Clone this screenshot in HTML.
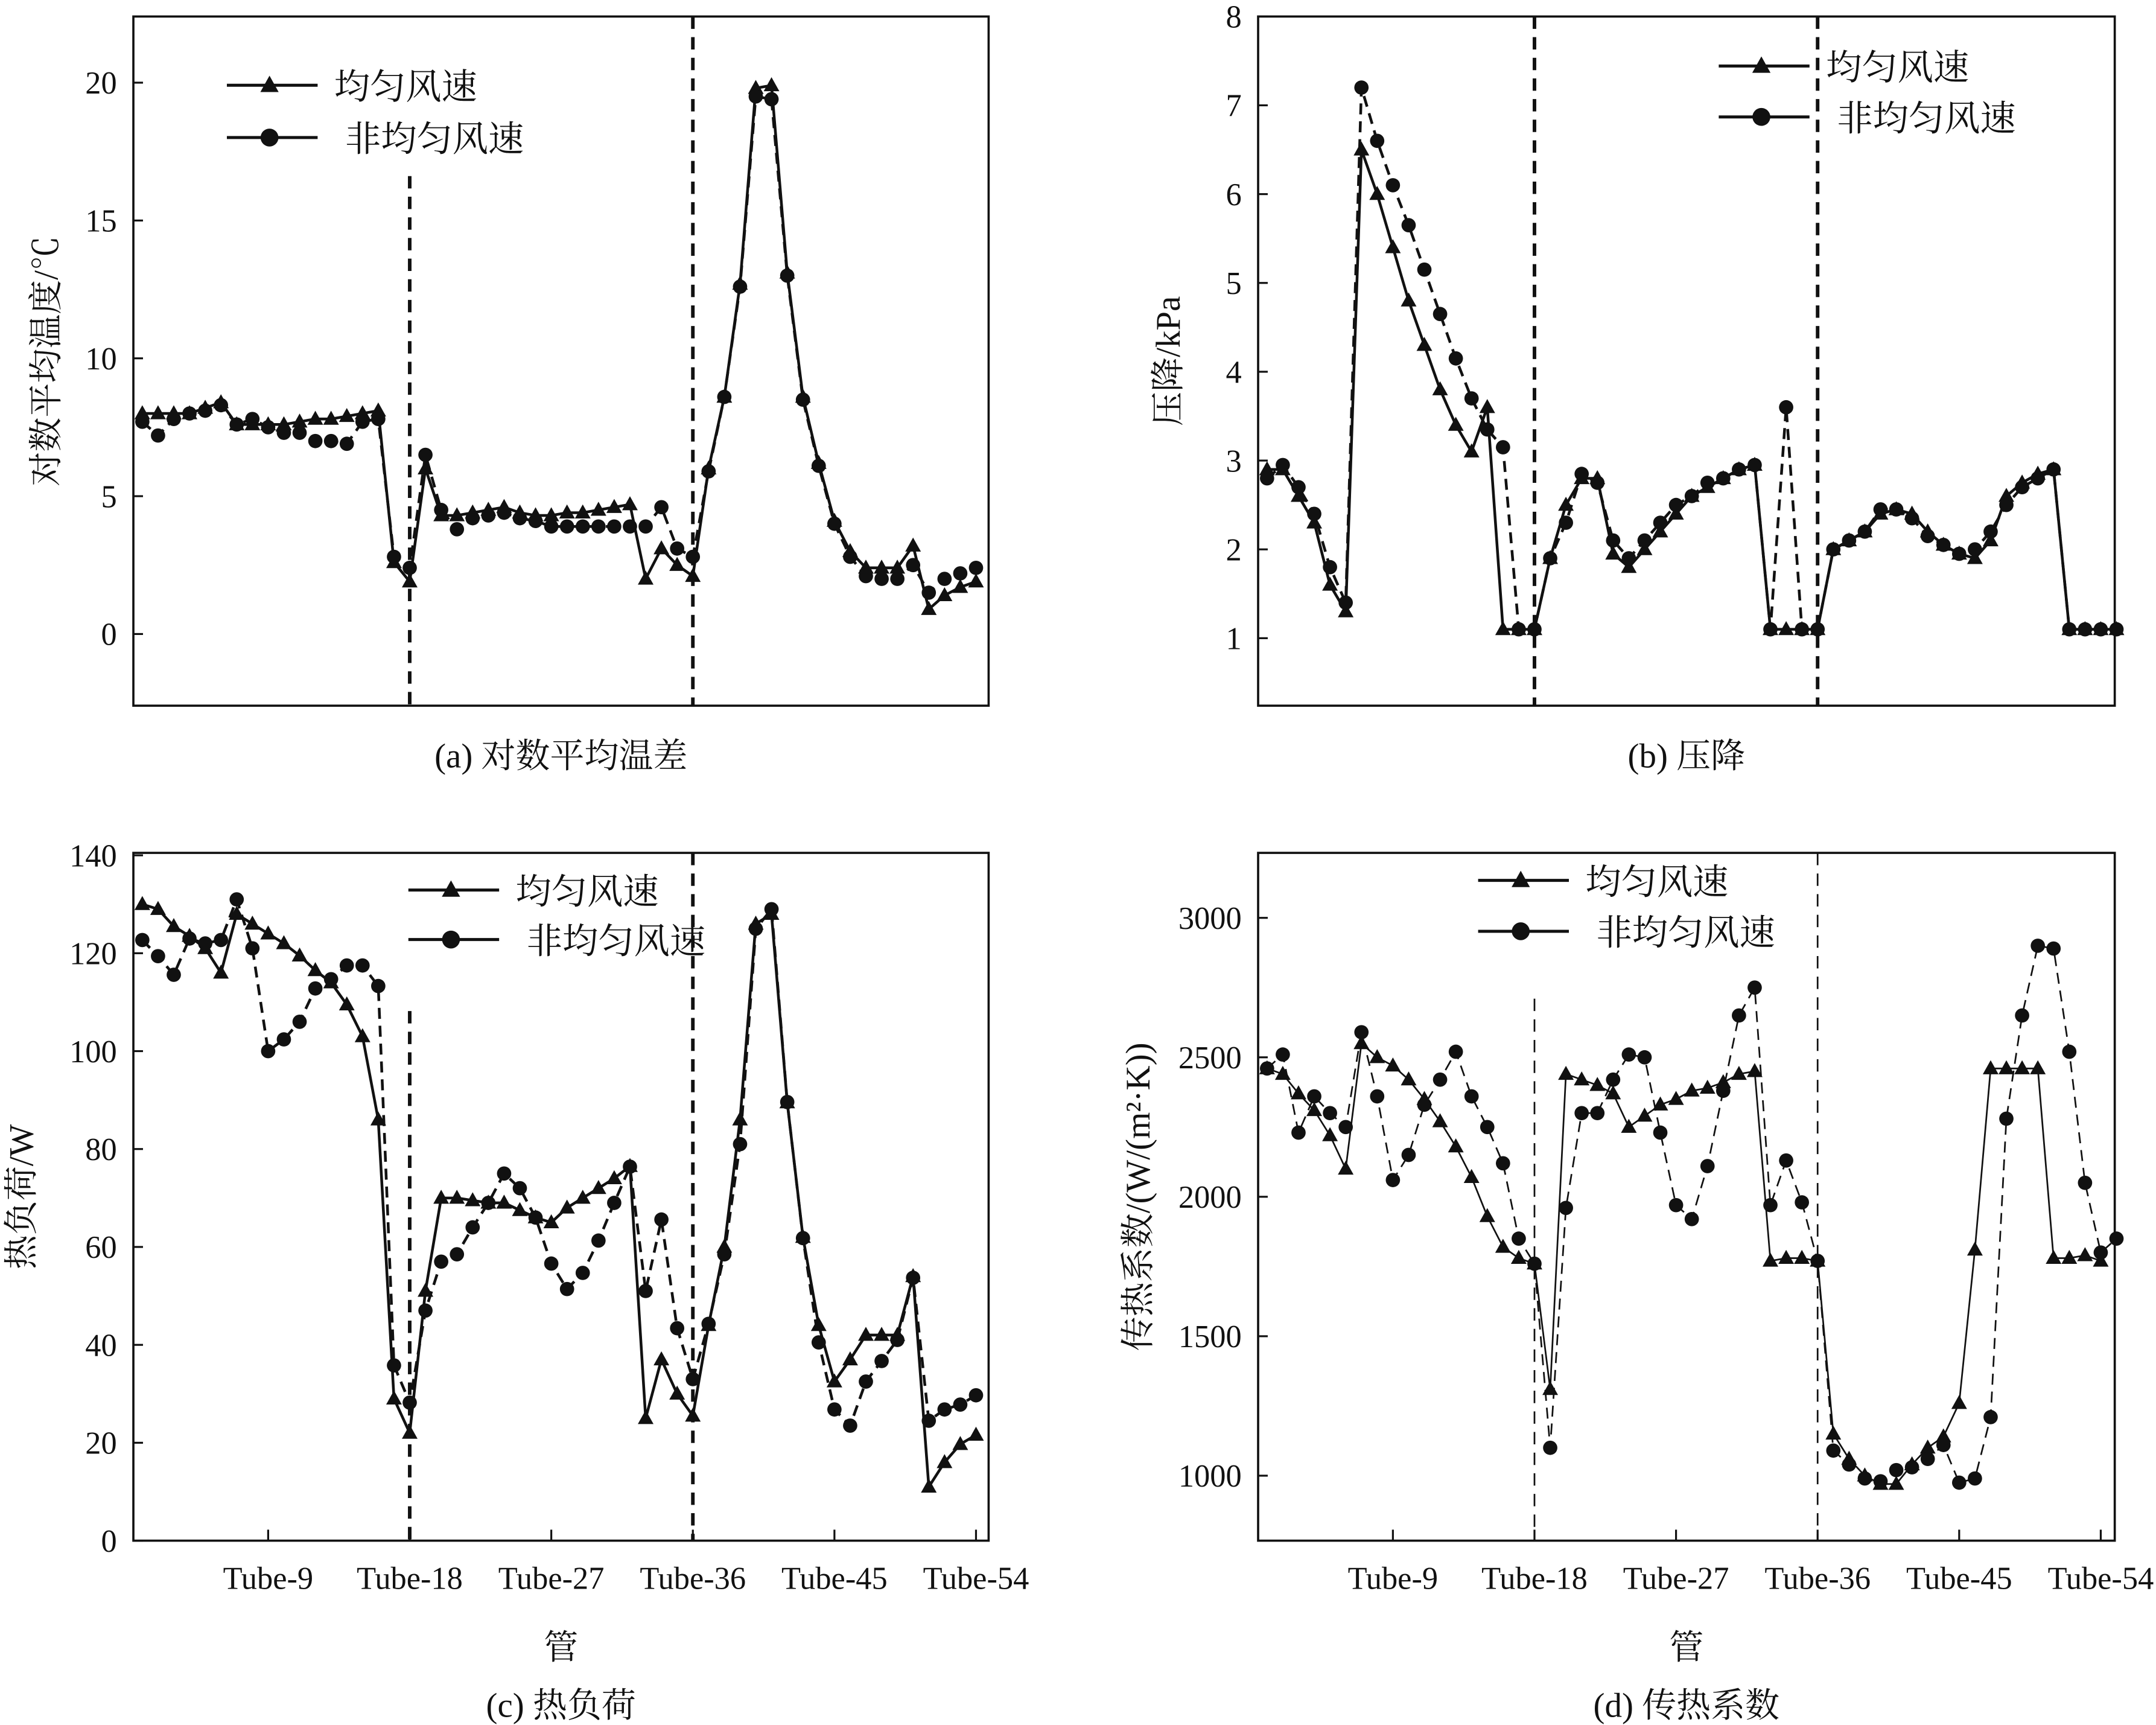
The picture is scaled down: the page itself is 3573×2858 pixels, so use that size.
<!DOCTYPE html>
<html><head><meta charset="utf-8">
<style>
html,body{margin:0;padding:0;background:#fff;}
svg{display:block;}
text{font-family:"Liberation Serif","Noto Serif CJK SC",serif;fill:#111;}
</style></head>
<body>
<svg id="chart" width="3573" height="2858" viewBox="0 0 1568 1254" preserveAspectRatio="none" xmlns="http://www.w3.org/2000/svg">
<g id="root"></g>
</svg>
<script>
// ---- data ----
const tubeTickLabels = ["Tube-9","Tube-18","Tube-27","Tube-36","Tube-45","Tube-54"];
const tubeTicks = [9,18,27,36,45,54];
const dividerTubes = [18,36];

const aTicks = [0,5,10,15,20];
const aUniform = [8,8,8,8,8.2,8.4,7.6,7.6,7.6,7.6,7.7,7.8,7.8,7.9,8,8.1,2.6,1.9,6,4.3,4.3,4.4,4.5,4.6,4.4,4.3,4.3,4.4,4.4,4.5,4.6,4.7,2.0,3.1,2.5,2.1,6,8.6,12.7,19.8,19.9,13.1,8.6,6.2,4.1,3.0,2.4,2.4,2.4,3.2,0.9,1.4,1.7,1.9];
const aNonUniform = [7.7,7.2,7.8,8,8.1,8.3,7.6,7.8,7.5,7.3,7.3,7.0,7.0,6.9,7.7,7.8,2.8,2.4,6.5,4.5,3.8,4.2,4.3,4.4,4.2,4.1,3.9,3.9,3.9,3.9,3.9,3.9,3.9,4.6,3.1,2.8,5.9,8.6,12.6,19.5,19.4,13,8.5,6.1,4,2.8,2.1,2,2,2.5,1.5,2,2.2,2.4];

const bTicks = [1,2,3,4,5,6,7,8];
const bUniform = [2.9,2.9,2.6,2.3,1.6,1.3,6.5,6.0,5.4,4.8,4.3,3.8,3.4,3.1,3.6,1.1,1.1,1.1,1.9,2.5,2.8,2.8,1.95,1.8,2.0,2.2,2.4,2.6,2.7,2.8,2.9,2.95,1.1,1.1,1.1,1.1,2.0,2.1,2.2,2.4,2.45,2.4,2.2,2.05,1.95,1.9,2.1,2.6,2.75,2.85,2.9,1.1,1.1,1.1,1.1];
const bNonUniform = [2.8,2.95,2.7,2.4,1.8,1.4,7.2,6.6,6.1,5.65,5.15,4.65,4.15,3.7,3.35,3.15,1.1,1.1,1.9,2.3,2.85,2.75,2.1,1.9,2.1,2.3,2.5,2.6,2.75,2.8,2.9,2.95,1.1,3.6,1.1,1.1,2.0,2.1,2.2,2.45,2.45,2.35,2.15,2.05,1.95,2.0,2.2,2.5,2.7,2.8,2.9,1.1,1.1,1.1,1.1];

const cTicks = [0,20,40,60,80,100,120,140];
const cUniform = [130,129,125.5,123.5,121,116,128,126,124,122,119.5,116.5,114,109.5,103,86,29,22,51,70,70,69.5,69,69,67.5,66,65,68,70,72,74,76.5,25,37,30,25.5,44,60,86,126,128,89.5,62,44,32.5,37,42,42,42,54,11,16,19.7,21.6];
const cNonUniform = [122.7,119.4,115.6,123,122,122.7,131,121,100,102.4,106,112.8,114.7,117.5,117.5,113.3,35.8,28.2,47,57,58.5,64,69,75,72,66,56.6,51.4,54.7,61.3,69,76.4,51,65.6,43.4,33,44.3,58.5,81,125,129,89.6,61.8,40.5,26.8,23.5,32.5,36.7,41,53.7,24.5,26.8,27.8,29.7];

const dTicks = [1000,1500,2000,2500,3000];
const dUniform = [2460,2440,2370,2310,2220,2100,2550,2500,2470,2420,2350,2270,2180,2070,1930,1820,1780,1760,1310,2440,2420,2400,2370,2250,2290,2330,2350,2380,2390,2410,2440,2450,1770,1780,1780,1770,1150,1060,1000,970,970,1040,1100,1140,1260,1810,2460,2460,2460,2460,1780,1780,1790,1770];
const dNonUniform = [2460,2510,2230,2360,2300,2250,2590,2360,2060,2150,2330,2420,2520,2360,2250,2120,1850,1760,1100,1960,2300,2300,2420,2510,2500,2230,1970,1920,2110,2380,2650,2750,1970,2130,1980,1770,1090,1040,990,980,1020,1030,1060,1110,975,990,1210,2280,2650,2900,2890,2520,2050,1800,1850];

const legendLabels = ["均匀风速","非均匀风速"];

// ---- drawing ----
const NS="http://www.w3.org/2000/svg";
const root=document.getElementById('root');
function mk(tag,attrs,parent){const e=document.createElementNS(NS,tag);for(const k in attrs)e.setAttribute(k,attrs[k]);(parent||root).appendChild(e);return e;}

function tri(g,x,y,r){return mk('polygon',{points:`${x},${y-r} ${x-r*0.95},${y+r*0.7} ${x+r*0.95},${y+r*0.7}`,fill:'#111'},g);}

function panel(p){
  const g=mk('g',{});
  
  
  const {L,T,R,B,ymin,ymax}=p;
  const xs=n=>L+6.5+(n-1)*11.44;
  const ys=v=>B-(v-ymin)/(ymax-ymin)*(B-T);
  const frame=mk('rect',{x:L,y:T,width:R-L,height:B-T,fill:'none',stroke:'#111','stroke-width':1.6},g);
  
  
  p.yt.forEach(v=>{
    const y=ys(v);
    const t=mk('line',{x1:L,x2:L+7,y1:y,y2:y,stroke:'#111','stroke-width':1.4},g);
    
    
    const lb=mk('text',{x:L-12,y:y+8,'text-anchor':'end','font-size':23},g);
    lb.textContent=v;
    
    
  });
  if(p.xlabels){
    tubeTicks.forEach((n,i)=>{
      const x=xs(n);
      const t=mk('line',{x1:x,x2:x,y1:B,y2:B-8,stroke:'#111','stroke-width':1.4},g);
      
      
      const lb=mk('text',{x:x,y:B+35,'text-anchor':'middle','font-size':23},g);
      lb.textContent=tubeTickLabels[i];
      
      
    });
    const xt=mk('text',{x:(L+R)/2,y:B+86,'text-anchor':'middle','font-size':25},g);
    xt.textContent='管';
    
    
  }
  dividerTubes.forEach((n,i)=>{
    const x=xs(n);
    const d=mk('line',{x1:x,x2:x,y1:p.divTop[i],y2:B,stroke:'#111','stroke-width':p.divW,'stroke-dasharray':'9,6'},g);
    
    
  });
  function series(vals,dashed,marker,nm){
    const pts=vals.map((v,i)=>`${xs(i+1)},${ys(v)}`).join(' ');
    const pl=mk('polyline',{points:pts,fill:'none',stroke:'#111','stroke-width':p.lw,'stroke-dasharray':dashed?'8,5':'none'},g);
    
    
    vals.forEach((v,i)=>{
      let m;
      if(marker==='tri') m=tri(g,xs(i+1),ys(v),6);
      else m=mk('circle',{cx:xs(i+1),cy:ys(v),r:5.2,fill:'#111'},g);
      
      
    });
  }
  series(p.u,false,'tri','uniform');
  series(p.n,true,'dot','nonuniform');
  const lg=mk('g',{},g);
  
  
  [0,1].forEach(i=>{
    const y=p.leg.y+i*p.leg.dy;
    const e=mk('g',{},lg);
    
    
    mk('line',{x1:p.leg.x,x2:p.leg.x+66,y1:y,y2:y,stroke:'#111','stroke-width':2.2},e);
    if(i===0) tri(e,p.leg.x+31,y,7); else mk('circle',{cx:p.leg.x+31,cy:y,r:6.5,fill:'#111'},e);
    const t=mk('text',{x:p.leg.x+78+(i?8:0),y:y+10,'font-size':26},e);
    t.textContent=legendLabels[i];
  });
  const yt=mk('text',{transform:`translate(${p.yTitleX},${(T+B)/2}) rotate(-90)`,'text-anchor':'middle','font-size':25},g);
  yt.textContent=p.ytitle;
  
  
  const cap=mk('text',{x:(L+R)/2,y:p.capY,'text-anchor':'middle','font-size':25},g);
  cap.textContent=p.caption;
  
  
}

panel({name:'panel-a-log-mean-temp-diff',L:97,T:12,R:719,B:513,ymin:-2.6,ymax:22.4,yt:aTicks,u:aUniform,n:aNonUniform,
  divTop:[128,12],divW:2.6,lw:2,leg:{x:165,y:62,dy:38},ytitle:'对数平均温度/℃',yTitleX:42,caption:'(a) 对数平均温差',capY:558,xlabels:false});
panel({name:'panel-b-pressure-drop',L:915,T:12,R:1538,B:513,ymin:0.24,ymax:8,yt:bTicks,u:bUniform,n:bNonUniform,
  divTop:[12,12],divW:2.6,lw:2,leg:{x:1250,y:48,dy:37},ytitle:'压降/kPa',yTitleX:858,caption:'(b) 压降',capY:558,xlabels:false});
panel({name:'panel-c-heat-load',L:97,T:620,R:719,B:1120,ymin:0,ymax:140.5,yt:cTicks,u:cUniform,n:cNonUniform,
  divTop:[735,620],divW:2.6,lw:2,leg:{x:297,y:647,dy:36},ytitle:'热负荷/W',yTitleX:24,caption:'(c) 热负荷',capY:1248,xlabels:true});
panel({name:'panel-d-heat-transfer-coeff',L:915,T:620,R:1538,B:1120,ymin:767,ymax:3233,yt:dTicks,u:dUniform,n:dNonUniform,
  divTop:[726,620],divW:1.2,lw:1.2,leg:{x:1075,y:640,dy:37},ytitle:'传热系数/(W/(m²·K))',yTitleX:836,caption:'(d) 传热系数',capY:1248,xlabels:true});
</script>
</body></html>
